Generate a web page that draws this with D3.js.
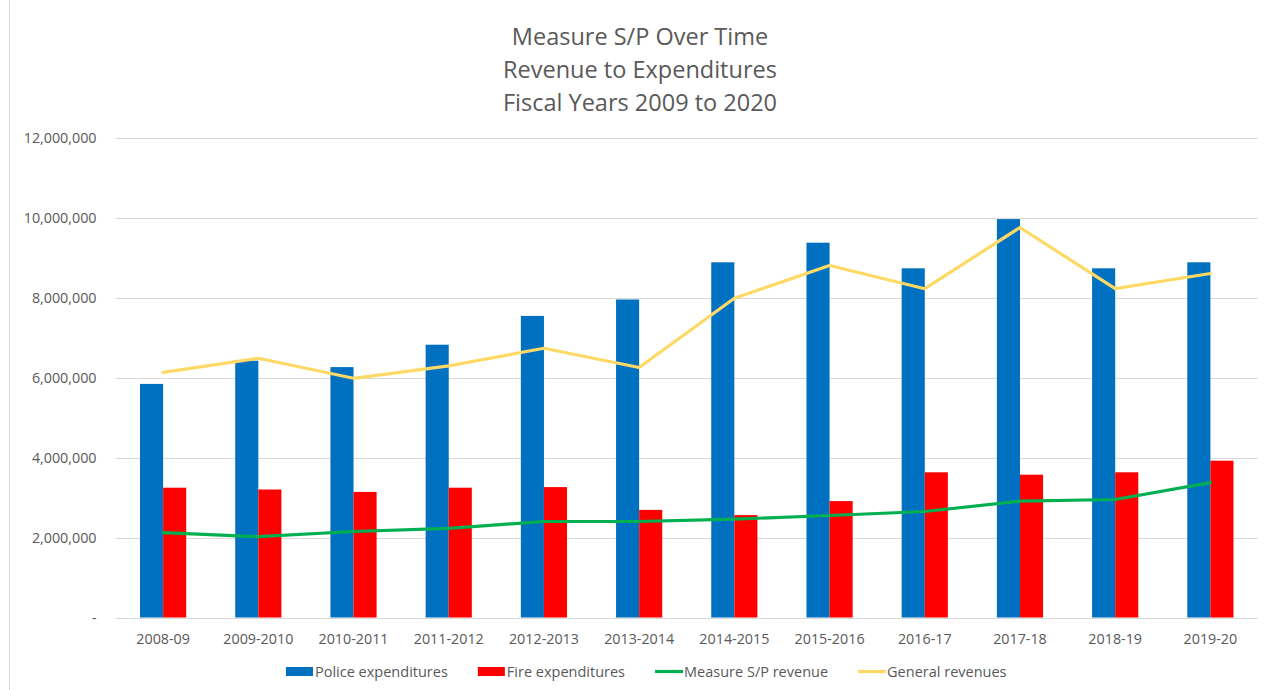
<!DOCTYPE html>
<html>
<head>
<meta charset="utf-8">
<script src="https://cdn.jsdelivr.net/npm/d3@7"></script>
<style>
  body { margin: 0; background: #fff; }
  text { font-family: "Open Sans", sans-serif; fill: #595959; }
</style>
</head>
<body>
<svg id="chart" width="1272" height="690"></svg>
<script>
// fiscal years on the x axis
var years = ["2008-09", "2009-2010", "2010-2011", "2011-2012", "2012-2013", "2013-2014",
  "2014-2015", "2015-2016", "2016-17", "2017-18", "2018-19", "2019-20"];

// bar series
var policeExp = [5840000, 6420000, 6260000, 6820000, 7540000, 7950000, 8880000, 9370000, 8730000, 9960000, 8730000, 8880000];
var fireExp = [3245000, 3200000, 3140000, 3245000, 3260000, 2690000, 2560000, 2910000, 3630000, 3570000, 3630000, 3920000];

// line series
var measureRev = [2120000, 2020000, 2150000, 2230000, 2400000, 2400000, 2460000, 2550000, 2650000, 2910000, 2950000, 3370000];
var generalRev = [6130000, 6480000, 5980000, 6290000, 6730000, 6250000, 7980000, 8800000, 8220000, 9750000, 8220000, 8600000];

var yTicks = [0, 2000000, 4000000, 6000000, 8000000, 10000000, 12000000];
var titleLines = ["Measure S/P Over Time", "Revenue to Expenditures", "Fiscal Years 2009 to 2020"];

var plot = {left: 115.5, right: 1258, top: 137.5, bottom: 617.5};
var colors = {police: "#0070C0", fire: "#FF0000", measure: "#00B050", general: "#FFD966", grid: "#D9D9D9"};

var svg = d3.select("#chart");

// outer chart border (left edge visible)
svg.append("line")
  .attr("x1", 9.5).attr("x2", 9.5)
  .attr("y1", 0).attr("y2", 690)
  .attr("stroke", colors.grid);

// title
svg.append("g").selectAll("text")
  .data(titleLines)
  .enter().append("text")
  .attr("x", 640)
  .attr("y", function(d, i) { return 45 + i * 33; })
  .attr("text-anchor", "middle")
  .style("font-size", "23.5px")
  .text(function(d) { return d; });

var x0 = d3.scaleBand()
  .domain(years)
  .range([plot.left, plot.right])
  .paddingInner(0.515)
  .paddingOuter(0.2575);

var x1 = d3.scaleBand()
  .domain(["police", "fire"])
  .range([0, x0.bandwidth()]);

var y = d3.scaleLinear()
  .domain([0, 12000000])
  .range([plot.bottom, plot.top]);

// gridlines
svg.append("g").selectAll("line")
  .data(yTicks)
  .enter().append("line")
  .attr("x1", plot.left).attr("x2", plot.right)
  .attr("y1", function(d) { return Math.round(y(d)) + 0.5; })
  .attr("y2", function(d) { return Math.round(y(d)) + 0.5; })
  .attr("stroke", colors.grid)
  .attr("stroke-width", 1);

// y axis labels
var yAxis = svg.append("g")
  .attr("transform", "translate(" + plot.left + ",0)")
  .call(d3.axisLeft(y)
    .tickValues(yTicks)
    .tickSize(0)
    .tickPadding(19)
    .tickFormat(function(d) { return d === 0 ? "-" : d3.format(",")(d); }));
yAxis.select(".domain").remove();
yAxis.selectAll("text").style("font-size", "14.3px").attr("fill", "#595959").style("font-family", "'Open Sans', sans-serif");

// x axis labels
var xAxis = svg.append("g")
  .attr("transform", "translate(0," + plot.bottom + ")")
  .call(d3.axisBottom(x0).tickSize(0).tickPadding(16));
xAxis.select(".domain").remove();
xAxis.selectAll("text").style("font-size", "14.3px").attr("fill", "#595959").style("font-family", "'Open Sans', sans-serif");

// bars
var groups = svg.append("g").selectAll("g")
  .data(years)
  .enter().append("g")
  .attr("transform", function(d) { return "translate(" + x0(d) + ",0)"; });

groups.append("rect")
  .attr("x", x1("police"))
  .attr("width", x1.bandwidth())
  .attr("y", function(d, i) { return y(policeExp[i]); })
  .attr("height", function(d, i) { return y(0) - y(policeExp[i]); })
  .attr("fill", colors.police);

groups.append("rect")
  .attr("x", x1("fire"))
  .attr("width", x1.bandwidth())
  .attr("y", function(d, i) { return y(fireExp[i]); })
  .attr("height", function(d, i) { return y(0) - y(fireExp[i]); })
  .attr("fill", colors.fire);

// lines
var line = d3.line()
  .x(function(d, i) { return x0(years[i]) + x0.bandwidth() / 2; })
  .y(function(d) { return y(d); });

svg.append("path")
  .datum(measureRev)
  .attr("d", line)
  .attr("fill", "none")
  .attr("stroke", colors.measure)
  .attr("stroke-width", 3.2)
  .attr("stroke-linejoin", "round")
  .attr("stroke-linecap", "round");

svg.append("path")
  .datum(generalRev)
  .attr("d", line)
  .attr("fill", "none")
  .attr("stroke", colors.general)
  .attr("stroke-width", 3.2)
  .attr("stroke-linejoin", "round")
  .attr("stroke-linecap", "round");

// legend
var legendItems = [
  {label: "Police expenditures", color: colors.police, type: "rect"},
  {label: "Fire expenditures", color: colors.fire, type: "rect"},
  {label: "Measure S/P revenue", color: colors.measure, type: "line"},
  {label: "General revenues", color: colors.general, type: "line"}
];

var legend = svg.append("g");
var lx = 286, ly = 671.5;
legendItems.forEach(function(item) {
  if (item.type === "rect") {
    legend.append("rect")
      .attr("x", lx).attr("y", ly - 4.5)
      .attr("width", 27).attr("height", 9)
      .attr("fill", item.color);
  } else {
    legend.append("line")
      .attr("x1", lx).attr("x2", lx + 28)
      .attr("y1", ly).attr("y2", ly)
      .attr("stroke", item.color)
      .attr("stroke-width", 3.2);
  }
  var t = legend.append("text")
    .attr("x", lx + 29)
    .attr("y", ly + 5)
    .style("font-size", "14.5px")
    .text(item.label);
  lx += 29 + t.node().getComputedTextLength() + 30;
});
</script>
</body>
</html>
